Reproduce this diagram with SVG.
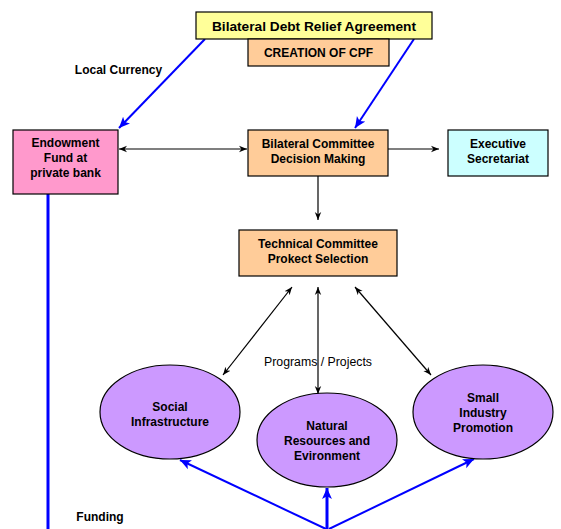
<svg xmlns="http://www.w3.org/2000/svg" width="561" height="529" viewBox="0 0 561 529">
<defs>
<marker id="ab" viewBox="0 0 10 10" refX="10" refY="5" markerWidth="8" markerHeight="8" markerUnits="userSpaceOnUse" orient="auto-start-reverse"><path d="M0,1 L10,5 L0,9 L3,5 Z" fill="#000"/></marker>
<marker id="au" viewBox="0 0 10 10" refX="10" refY="5" markerWidth="11" markerHeight="11" markerUnits="userSpaceOnUse" orient="auto"><path d="M0,0.5 L10,5 L0,9.5 L2.5,5 Z" fill="#0000ff"/></marker>
</defs>
<style>
.b{stroke:#000;stroke-width:1.2}
.t{font-family:"Liberation Sans",Arial,sans-serif;font-weight:bold;font-size:12px;fill:#000;text-anchor:middle}
.k{stroke:#000;stroke-width:1.2;fill:none}
.u{stroke:#0000ff;stroke-width:2;fill:none}
</style>
<g id="connectors">
<line class="u" x1="205" y1="39" x2="119" y2="128" marker-end="url(#au)"/>
<line class="u" x1="414" y1="39" x2="355" y2="128" marker-end="url(#au)"/>
<line x1="48" y1="194" x2="48" y2="529" stroke="#0000ff" stroke-width="3"/>
<line class="k" x1="119" y1="149" x2="247" y2="149" marker-start="url(#ab)" marker-end="url(#ab)"/>
<line class="k" x1="388" y1="149" x2="439" y2="149" marker-end="url(#ab)"/>
<line class="k" x1="318" y1="176" x2="318" y2="220" marker-end="url(#ab)"/>
<line class="k" x1="292" y1="287" x2="223" y2="375" marker-start="url(#ab)" marker-end="url(#ab)"/>
<line class="k" x1="318" y1="287" x2="318" y2="394" marker-start="url(#ab)" marker-end="url(#ab)"/>
<line class="k" x1="355" y1="287" x2="431" y2="375" marker-start="url(#ab)" marker-end="url(#ab)"/>
<line class="u" x1="326" y1="529" x2="180" y2="460" marker-end="url(#au)"/>
<line x1="327" y1="529" x2="327" y2="488" stroke="#0000ff" stroke-width="3" marker-end="url(#au)"/>
<line class="u" x1="329" y1="529" x2="474" y2="459" marker-end="url(#au)"/>
</g>
<g id="agreement">
<rect class="b" x="196" y="12" width="236" height="27" fill="#ffff99"/>
<text class="t" x="314" y="31" style="font-size:13.7px">Bilateral Debt Relief Agreement</text>
</g>
<g id="cpf">
<rect class="b" x="248" y="39" width="141" height="27" fill="#ffcc99"/>
<text class="t" x="318.5" y="57">CREATION OF CPF</text>
</g>
<g id="endowment">
<rect class="b" x="13" y="130" width="105" height="64" fill="#ff99cc"/>
<text class="t" x="65.5" y="147">Endowment</text>
<text class="t" x="65.5" y="162">Fund at</text>
<text class="t" x="65.5" y="177">private bank</text>
</g>
<g id="bilateral">
<rect class="b" x="248" y="130" width="140" height="46" fill="#ffcc99"/>
<text class="t" x="318" y="148">Bilateral Committee</text>
<text class="t" x="318" y="163">Decision Making</text>
</g>
<g id="executive">
<rect class="b" x="448" y="130" width="100" height="46" fill="#ccffff"/>
<text class="t" x="498" y="148">Executive</text>
<text class="t" x="498" y="163">Secretariat</text>
</g>
<g id="technical">
<rect class="b" x="239" y="230" width="158" height="46" fill="#ffcc99"/>
<text class="t" x="318" y="248">Technical Committee</text>
<text class="t" x="318" y="263">Prokect Selection</text>
</g>
<g id="social">
<ellipse class="b" cx="170" cy="412" rx="70" ry="47" fill="#cc99ff"/>
<text class="t" x="170" y="411">Social</text>
<text class="t" x="170" y="426">Infrastructure</text>
</g>
<g id="natural">
<ellipse class="b" cx="327" cy="440" rx="70" ry="47" fill="#cc99ff"/>
<text class="t" x="327" y="430">Natural</text>
<text class="t" x="327" y="445">Resources and</text>
<text class="t" x="327" y="460">Evironment</text>
</g>
<g id="small">
<ellipse class="b" cx="483" cy="412" rx="70" ry="47" fill="#cc99ff"/>
<text class="t" x="483" y="402">Small</text>
<text class="t" x="483" y="417">Industry</text>
<text class="t" x="483" y="432">Promotion</text>
</g>
<g id="labels">
<text class="t" x="118.5" y="74">Local Currency</text>
<text class="t" x="100" y="521">Funding</text>
<text x="318" y="366" style="font-family:'Liberation Sans',Arial,sans-serif;font-size:12.3px;text-anchor:middle">Programs / Projects</text>
</g>
</svg>
